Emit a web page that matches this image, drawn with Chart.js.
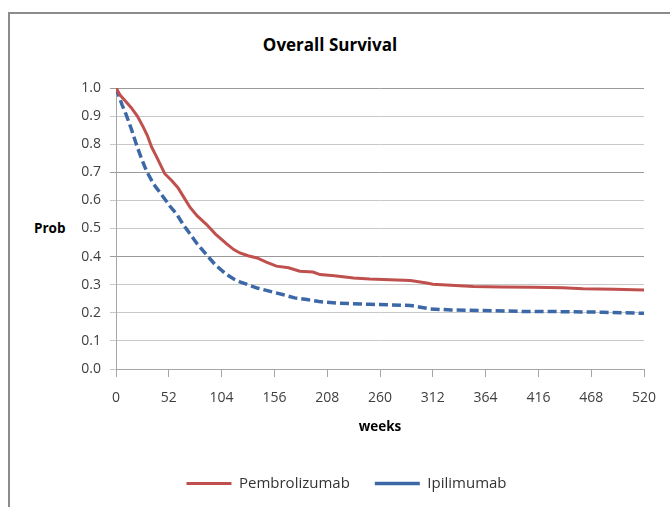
<!DOCTYPE html>
<html>
<head>
<meta charset="utf-8">
<script src="https://cdn.jsdelivr.net/npm/chart.js@4.4.1/dist/chart.umd.min.js"></script>
<style>
  html, body { margin: 0; padding: 0; background: #fff; }
  #wrap { position: relative; width: 670px; height: 507px; overflow: hidden; }
  #frame { position: absolute; left: 8px; top: 12px; width: 700px; height: 520px;
           border-left: 2px solid #8c8c8c; border-top: 2px solid #8c8c8c; }
  #title { position: absolute; left: -5px; width: 670px; top: 33px; text-align: center;
           font: bold 17px "Open Sans", sans-serif; color: #000; }
  #ylab { position: absolute; left: 34px; top: 219px;
          font: bold 13.5px "Open Sans", sans-serif; color: #000; }
  canvas { position: absolute; left: 0; top: 0; }
</style>
</head>
<body>
<div id="wrap">
  <div id="frame"></div>
  <div id="title">Overall Survival</div>
  <div id="ylab">Prob</div>
  <canvas id="chart" width="670" height="507"></canvas>
</div>
<script>
// survival curves (weeks, probability)
const pembroWeeks = [0, 4, 9, 15, 21, 27, 31, 35, 40, 48, 55, 61, 67, 73, 80, 89, 98, 109, 116, 122, 130, 139, 148, 158, 170, 181, 194, 201, 215, 234, 250, 270, 290, 306, 312, 330, 352, 380, 411, 440, 460, 490, 520];
const pembroProb  = [1.0, 0.975, 0.955, 0.93, 0.90, 0.86, 0.83, 0.79, 0.755, 0.695, 0.67, 0.645, 0.61, 0.575, 0.545, 0.515, 0.48, 0.445, 0.425, 0.413, 0.403, 0.395, 0.38, 0.366, 0.36, 0.348, 0.345, 0.336, 0.332, 0.324, 0.32, 0.318, 0.315, 0.306, 0.302, 0.298, 0.294, 0.292, 0.291, 0.289, 0.286, 0.284, 0.281];

const ipiWeeks = [0, 3, 6, 10, 15, 20, 25, 30, 37, 46, 53, 60, 66, 73, 80, 89, 98, 109, 116, 122, 130, 139, 150, 165, 176, 188, 200, 220, 250, 290, 300, 309, 330, 362, 400, 444, 480, 520];
const ipiProb  = [1.0, 0.97, 0.94, 0.905, 0.855, 0.80, 0.75, 0.705, 0.658, 0.615, 0.58, 0.55, 0.515, 0.48, 0.445, 0.407, 0.37, 0.336, 0.32, 0.31, 0.30, 0.288, 0.278, 0.264, 0.253, 0.247, 0.24, 0.234, 0.23, 0.226, 0.22, 0.214, 0.21, 0.208, 0.205, 0.204, 0.202, 0.198];

const xTicks = [0, 52, 104, 156, 208, 260, 312, 364, 416, 468, 520];

function pts(xs, ys) {
  return xs.map((x, i) => ({ x: x, y: ys[i] }));
}

const FONT = '"Open Sans", sans-serif';

new Chart(document.getElementById('chart'), {
  type: 'line',
  data: {
    datasets: [
      {
        label: 'Pembrolizumab',
        data: pts(pembroWeeks, pembroProb),
        borderColor: '#c0504d',
        backgroundColor: '#c0504d',
        borderWidth: 3,
        pointRadius: 0,
        tension: 0,
        fill: false
      },
      {
        label: 'Ipilimumab',
        data: pts(ipiWeeks, ipiProb),
        borderColor: '#3c68a8',
        backgroundColor: '#3c68a8',
        borderWidth: 3.5,
        borderDash: [9, 4],
        pointRadius: 0,
        tension: 0,
        fill: false
      }
    ]
  },
  options: {
    responsive: false,
    animation: false,
    // left padding only moves the legend centre; y axis width keeps plot left at 116
    layout: { padding: { left: 49, top: 88, right: 26, bottom: 6 } },
    plugins: {
      title: { display: false },
      tooltip: { enabled: false },
      legend: {
        position: 'bottom',
        labels: {
          usePointStyle: true,
          pointStyle: 'line',
          pointStyleWidth: 45,
          boxHeight: 13,
          padding: 25,
          color: '#333',
          font: { family: FONT, size: 15 }
        }
      }
    },
    scales: {
      x: {
        type: 'linear',
        min: 0,
        max: 520,
        afterBuildTicks: (scale) => { scale.ticks = xTicks.map(v => ({ value: v })); },
        ticks: { color: '#404040', padding: 13, maxRotation: 0, font: { family: FONT, size: 14 } },
        grid: { drawOnChartArea: false, tickLength: 8, color: '#a6a6a6' },
        border: { color: '#a6a6a6' },
        title: {
          display: true,
          text: 'weeks',
          color: '#000',
          font: { family: FONT, size: 13.5, weight: 'bold' },
          padding: { top: -1, bottom: 16 }
        }
      },
      y: {
        min: 0,
        max: 1,
        afterFit: (scale) => { scale.width = 67; },
        ticks: {
          stepSize: 0.1,
          color: '#404040',
          padding: 9,
          font: { family: FONT, size: 14 },
          callback: (v) => v.toFixed(1)
        },
        grid: {
          tickLength: 6,
          color: (ctx) => {
            const v = Math.round(ctx.tick.value * 10);
            return (v === 10 || v === 7 || v === 4) ? '#9a9a9a' : '#c8c8c8';
          }
        },
        border: { color: '#a6a6a6' }
      }
    }
  }
});
</script>
</body>
</html>
